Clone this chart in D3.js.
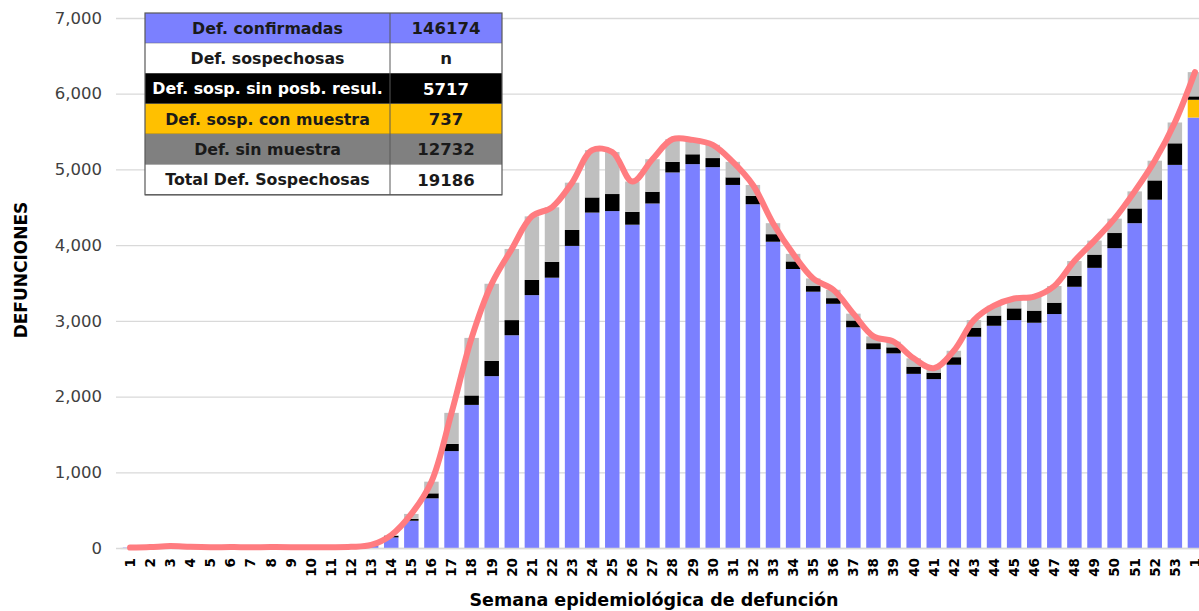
<!DOCTYPE html>
<html>
<head>
<meta charset="utf-8">
<script src="https://cdn.jsdelivr.net/npm/d3@7"></script>
<style>
  body { margin: 0; background: #fff; }
  svg { display: block; }
</style>
</head>
<body>
<svg id="chart"></svg>
<script>
// semanas epidemiológicas (la última es la semana 1 del año siguiente)
var semanas = ["1","2","3","4","5","6","7","8","9","10","11","12","13","14","15","16","17","18","19","20",
  "21","22","23","24","25","26","27","28","29","30","31","32","33","34","35","36","37","38","39","40",
  "41","42","43","44","45","46","47","48","49","50","51","52","53","1"];

var confirmadas = [5,12,25,15,10,12,10,12,10,10,10,15,25,140,360,656,1280,1890,2270,2810,
  3340,3570,3990,4430,4450,4270,4550,4960,5070,5030,4795,4540,4045,3685,3385,3225,2915,2625,2570,2300,
  2230,2420,2790,2935,3010,2975,3090,3450,3700,3960,4290,4600,5060,5685];
var sinResultado = [0,0,0,0,0,0,0,0,0,0,0,0,5,20,25,66,95,125,200,200,
  200,210,210,200,225,170,155,140,130,120,100,110,100,100,75,75,90,80,80,95,
  85,100,120,135,155,160,150,145,175,200,195,255,285,45];
var conMuestra = [0,0,0,0,0,0,0,0,0,0,0,0,0,0,0,0,0,0,0,0,
  0,0,0,0,0,0,0,0,0,0,0,0,0,0,0,0,0,0,0,0,
  0,0,0,0,0,0,0,0,0,0,0,0,0,235];
var sinMuestra = [0,0,0,0,0,0,0,0,0,0,0,0,10,10,65,154,410,760,1020,940,
  840,720,625,625,555,400,430,300,190,175,205,145,145,100,100,110,90,90,75,110,
  60,85,100,130,130,185,220,195,185,190,225,260,275,320];

var yTicks = [0,1000,2000,3000,4000,5000,6000,7000];

var tabla = [
  {label:"Def. confirmadas", value:"146174", fill:"#7B80FF", color:"#1a1a1a"},
  {label:"Def. sospechosas", value:"n", fill:"#ffffff", color:"#1a1a1a"},
  {label:"Def. sosp. sin posb. resul.", value:"5717", fill:"#000000", color:"#ffffff"},
  {label:"Def. sosp. con  muestra", value:"737", fill:"#FFC000", color:"#1a1a1a"},
  {label:"Def. sin muestra", value:"12732", fill:"#808080", color:"#1a1a1a"},
  {label:"Total Def. Sospechosas", value:"19186", fill:"#ffffff", color:"#1a1a1a"}
];

var W = 1199, H = 611;
var margin = {top: 18, left: 120, bottom: 63, right: 0};
var width = 1085;
var height = H - margin.top - margin.bottom;

var keys = ["confirmadas","conMuestra","sinResultado","sinMuestra"];
var color = d3.scaleOrdinal()
  .domain(keys)
  .range(["#7B80FF","#FFC000","#000000","#BFBFBF"]);

var data = semanas.map(function(s, i){
  return {
    i: i,
    confirmadas: confirmadas[i],
    conMuestra: conMuestra[i],
    sinResultado: sinResultado[i],
    sinMuestra: sinMuestra[i],
    total: confirmadas[i] + conMuestra[i] + sinResultado[i] + sinMuestra[i]
  };
});

var svg = d3.select("#chart")
  .attr("width", W)
  .attr("height", H);

var g = svg.append("g")
  .attr("transform", "translate(" + margin.left + "," + margin.top + ")");

var xScale = d3.scaleBand()
  .domain(d3.range(semanas.length))
  .range([0, width])
  .paddingInner(0.28)
  .paddingOuter(0.14);

var yScale = d3.scaleLinear()
  .domain([0, 7000])
  .range([height, 0]);

// grid
g.append("g")
  .selectAll("line")
  .data(yTicks)
  .enter()
  .append("line")
  .attr("x1", -4)
  .attr("x2", width)
  .attr("y1", d => yScale(d) + 0.5)
  .attr("y2", d => yScale(d) + 0.5)
  .attr("stroke", "#D9D9D9")
  .attr("stroke-width", 1.3);

// y axis
var yAxis = d3.axisLeft(yScale)
  .tickValues(yTicks)
  .tickFormat(d3.format(","))
  .tickSize(0)
  .tickPadding(18);

g.append("g")
  .call(yAxis)
  .call(ax => ax.select(".domain").remove())
  .selectAll("text")
  .style("font-family", "DejaVu Sans")
  .style("font-size", "16.5px")
  .attr("fill", "#404040");

// stacked bars
var stack = d3.stack().keys(keys);
var series = stack(data);

g.append("g")
  .selectAll("g")
  .data(series)
  .enter()
  .append("g")
  .attr("fill", d => color(d.key))
  .selectAll("rect")
  .data(d => d)
  .enter()
  .append("rect")
  .attr("x", d => xScale(d.data.i))
  .attr("width", xScale.bandwidth())
  .attr("y", d => yScale(d[1]))
  .attr("height", d => yScale(d[0]) - yScale(d[1]));

// x axis
var xAxis = d3.axisBottom(xScale)
  .tickFormat(i => semanas[i])
  .tickSize(0)
  .tickPadding(0);

var xg = g.append("g")
  .attr("transform", "translate(0," + height + ")")
  .call(xAxis);

xg.select(".domain")
  .attr("stroke", "#D9D9D9")
  .attr("stroke-width", 1.3);

xg.selectAll("text")
  .attr("transform", "rotate(-90)")
  .attr("x", -10)
  .attr("y", 0)
  .attr("dy", "0.36em")
  .attr("text-anchor", "end")
  .style("font-family", "DejaVu Sans")
  .style("font-weight", "bold")
  .style("font-size", "13.5px")
  .attr("fill", "#000");

// total line
var line = d3.line()
  .x(d => xScale(d.i) + xScale.bandwidth() / 2)
  .y(d => yScale(d.total))
  .curve(d3.curveCatmullRom.alpha(0.5));

g.append("path")
  .datum(data)
  .attr("d", line)
  .attr("fill", "none")
  .attr("stroke", "#FF7C80")
  .attr("stroke-width", 6)
  .attr("stroke-linecap", "round")
  .attr("stroke-linejoin", "round");

// axis titles
svg.append("text")
  .attr("x", 654)
  .attr("y", 606)
  .attr("text-anchor", "middle")
  .style("font-family", "DejaVu Sans")
  .style("font-weight", "bold")
  .style("font-size", "17.5px")
  .text("Semana epidemiológica de defunción");

svg.append("text")
  .attr("transform", "translate(27,270) rotate(-90)")
  .attr("text-anchor", "middle")
  .style("font-family", "DejaVu Sans")
  .style("font-weight", "bold")
  .style("font-size", "17px")
  .text("DEFUNCIONES");

// summary table
var tx = 145, ty = 13, c1 = 245, c2 = 112, rh = 30.3;

var rows = svg.append("g")
  .selectAll("g")
  .data(tabla)
  .enter()
  .append("g")
  .attr("transform", (d, i) => "translate(" + tx + "," + (ty + i * rh) + ")");

rows.append("rect")
  .attr("width", c1 + c2)
  .attr("height", rh)
  .attr("fill", d => d.fill);

rows.append("line")
  .attr("x1", 0).attr("x2", c1 + c2)
  .attr("y1", rh).attr("y2", rh)
  .attr("stroke", "#595959")
  .attr("stroke-width", 1);

rows.append("text")
  .attr("x", c1 / 2)
  .attr("y", rh / 2)
  .attr("dy", "0.36em")
  .attr("text-anchor", "middle")
  .attr("fill", d => d.color)
  .style("font-family", "DejaVu Sans")
  .style("font-weight", "bold")
  .style("font-size", "15.8px")
  .text(d => d.label);

rows.append("text")
  .attr("x", c1 + c2 / 2)
  .attr("y", rh / 2)
  .attr("dy", "0.36em")
  .attr("text-anchor", "middle")
  .attr("fill", d => d.color)
  .style("font-family", "DejaVu Sans")
  .style("font-weight", "bold")
  .style("font-size", "16.5px")
  .text(d => d.value);

svg.append("line")
  .attr("x1", tx + c1).attr("x2", tx + c1)
  .attr("y1", ty).attr("y2", ty + rh * tabla.length)
  .attr("stroke", "#595959");

svg.append("rect")
  .attr("x", tx).attr("y", ty)
  .attr("width", c1 + c2)
  .attr("height", rh * tabla.length)
  .attr("fill", "none")
  .attr("stroke", "#595959")
  .attr("stroke-width", 1.2);
</script>
</body>
</html>
